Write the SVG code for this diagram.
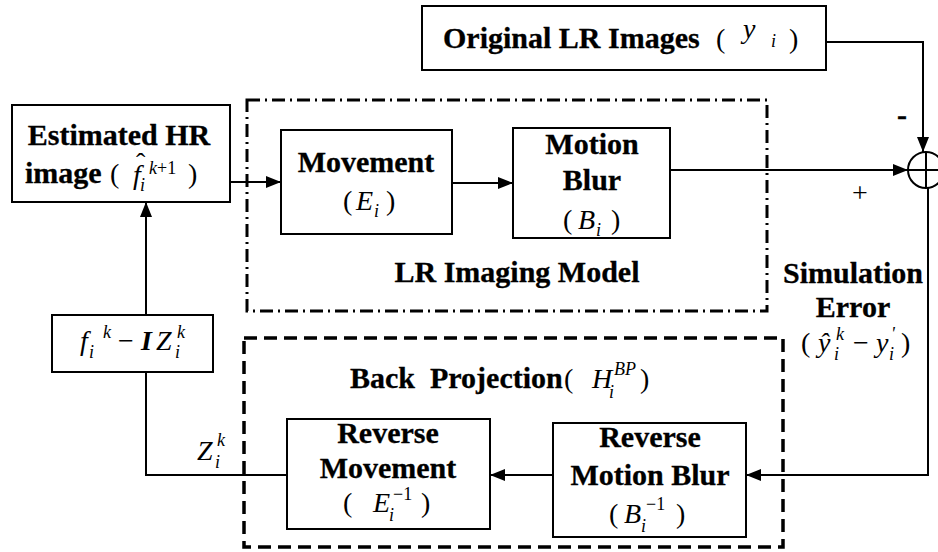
<svg xmlns="http://www.w3.org/2000/svg" width="938" height="552" viewBox="0 0 938 552">
<style>
.box{fill:none;stroke:#000;stroke-width:2}
.t{font-family:"Liberation Serif","Times New Roman",serif;font-weight:bold;font-size:30px;fill:#000;stroke:#000;stroke-width:0.3}
.m{font-family:"Liberation Serif","Times New Roman",serif;font-style:italic;font-size:28px;fill:#000}
.bm{font-family:"Liberation Serif","Times New Roman",serif;font-style:italic;font-weight:bold;font-size:28px;fill:#000}
.s{font-family:"Liberation Serif","Times New Roman",serif;font-style:italic;font-size:18px;fill:#000}
.p{font-family:"Liberation Serif","Times New Roman",serif;font-size:28px;fill:#000}
.c{fill:none;stroke:#000;stroke-width:2}
.mid{text-anchor:middle}
</style>
<defs>
<marker id="ah" markerUnits="userSpaceOnUse" markerWidth="15" markerHeight="12" refX="15" refY="6" orient="auto">
<path d="M0,0 L15,6 L0,12 z" fill="#000"/>
</marker>
</defs>

<g id="lr-model-frame">
<rect x="247" y="100" width="520" height="211" fill="none" stroke="#000" stroke-width="3" stroke-dasharray="13 5 2 5"/>
<text class="t mid" x="517" y="282">LR Imaging Model</text>
</g>

<g id="back-projection-frame">
<rect x="244" y="338" width="539" height="209" fill="none" stroke="#000" stroke-width="3.5" stroke-dasharray="13 7"/>
<text class="t" x="350" y="388" xml:space="preserve">Back  Projection</text>
<text class="p" x="564" y="388">(</text>
<text class="m" x="592" y="388">H</text>
<text class="s" x="614" y="375" font-size="15">BP</text>
<text class="s" x="609" y="398" font-size="15">i</text>
<text class="p" x="640" y="388">)</text>
</g>

<g id="estimated-hr">
<rect class="box" x="12" y="105" width="218" height="97"/>
<text class="t mid" x="119" y="145">Estimated HR</text>
<text class="t" x="25" y="183">image</text>
<text class="p" x="110" y="183">(</text>
<text class="m" x="133" y="184">f</text>
<text class="p" x="136" y="172">ˆ</text>
<text class="s" x="140" y="191" font-size="16">i</text>
<text class="s" x="149" y="174">k<tspan font-style="normal">+1</tspan></text>
<text class="p" x="188" y="183">)</text>
</g>

<g id="movement">
<rect class="box" x="281" y="130" width="171" height="104"/>
<text class="t mid" x="366" y="172">Movement</text>
<text class="p" x="343" y="210">(</text>
<text class="m" x="356" y="210">E</text>
<text class="s" x="374" y="217">i</text>
<text class="p" x="386" y="210">)</text>
</g>

<g id="motion-blur">
<rect class="box" x="513" y="128" width="157" height="110"/>
<text class="t mid" x="592" y="154">Motion</text>
<text class="t mid" x="592" y="190">Blur</text>
<text class="p" x="563" y="229">(</text>
<text class="m" x="578" y="229">B</text>
<text class="s" x="596" y="236">i</text>
<text class="p" x="611" y="229">)</text>
</g>

<g id="original-lr">
<rect class="box" x="422" y="6" width="404" height="64"/>
<text class="t" x="443" y="48">Original LR Images</text>
<text class="p" x="716" y="48">(</text>
<text class="m" x="743" y="38" font-size="24">y</text>
<text class="s" x="771" y="47" font-size="14">i</text>
<text class="p" x="789" y="48">)</text>
</g>

<g id="sum">
<circle cx="926" cy="170" r="18" fill="none" stroke="#000" stroke-width="2"/>
<line x1="926" y1="152" x2="926" y2="188" stroke="#000" stroke-width="2"/>
<line x1="908" y1="170" x2="944" y2="170" stroke="#000" stroke-width="2"/>
<text class="t mid" x="902" y="125" font-size="24">-</text>
<text class="p mid" x="860" y="202" font-size="24">+</text>
</g>

<g id="simulation-error">
<text class="t mid" x="853" y="283">Simulation</text>
<text class="t mid" x="853" y="317">Error</text>
<text class="p" x="801" y="352">(</text>
<text class="m" x="818" y="352">ŷ</text>
<text class="s" x="836" y="340">k</text>
<text class="s" x="834" y="360">i</text>
<text class="p" x="853" y="352">−</text>
<text class="m" x="876" y="352">y</text>
<text class="s" x="891" y="340">'</text>
<text class="s" x="889" y="360">i</text>
<text class="p" x="901" y="352">)</text>
</g>

<g id="reverse-movement">
<rect class="box" x="287" y="419" width="203" height="110"/>
<text class="t mid" x="388" y="443">Reverse</text>
<text class="t mid" x="388" y="478">Movement</text>
<text class="p" x="343" y="512">(</text>
<text class="m" x="373" y="512">E</text>
<text class="s" x="393" y="500"><tspan font-style="normal">−1</tspan></text>
<text class="s" x="389" y="521">i</text>
<text class="p" x="421" y="512">)</text>
</g>

<g id="reverse-motion-blur">
<rect class="box" x="553" y="423" width="193" height="114"/>
<text class="t mid" x="650" y="447">Reverse</text>
<text class="t mid" x="650" y="485">Motion Blur</text>
<text class="p" x="609" y="523">(</text>
<text class="m" x="624" y="523">B</text>
<text class="s" x="646" y="510"><tspan font-style="normal">−1</tspan></text>
<text class="s" x="641" y="532">i</text>
<text class="p" x="676" y="523">)</text>
</g>

<g id="update">
<rect class="box" x="52" y="315" width="161" height="57"/>
<text class="m" x="80" y="350">f</text>
<text class="s" x="89" y="358">i</text>
<text class="s" x="103" y="338">k</text>
<text class="p" x="118" y="350">−</text>
<text class="bm" x="141" y="350">I</text>
<text class="m" x="156" y="350">Z</text>
<text class="s" x="177" y="338">k</text>
<text class="s" x="175" y="358">i</text>
</g>

<g id="zk-label">
<text class="m" x="197" y="460">Z</text>
<text class="s" x="217" y="446">k</text>
<text class="s" x="215" y="468">i</text>
</g>

<g id="connectors">
<line class="c" x1="230" y1="182" x2="281" y2="182" marker-end="url(#ah)"/>
<line class="c" x1="452" y1="183" x2="513" y2="183" marker-end="url(#ah)"/>
<line class="c" x1="670" y1="170" x2="908" y2="170" marker-end="url(#ah)"/>
<polyline class="c" points="826,42 923,42 923,152" marker-end="url(#ah)"/>
<polyline class="c" points="928,188 928,475 746,475" marker-end="url(#ah)"/>
<line class="c" x1="553" y1="475" x2="490" y2="475" marker-end="url(#ah)"/>
<polyline class="c" points="287,475 146,475 146,372"/>
<line class="c" x1="146" y1="315" x2="146" y2="202" marker-end="url(#ah)"/>
</g>
</svg>
